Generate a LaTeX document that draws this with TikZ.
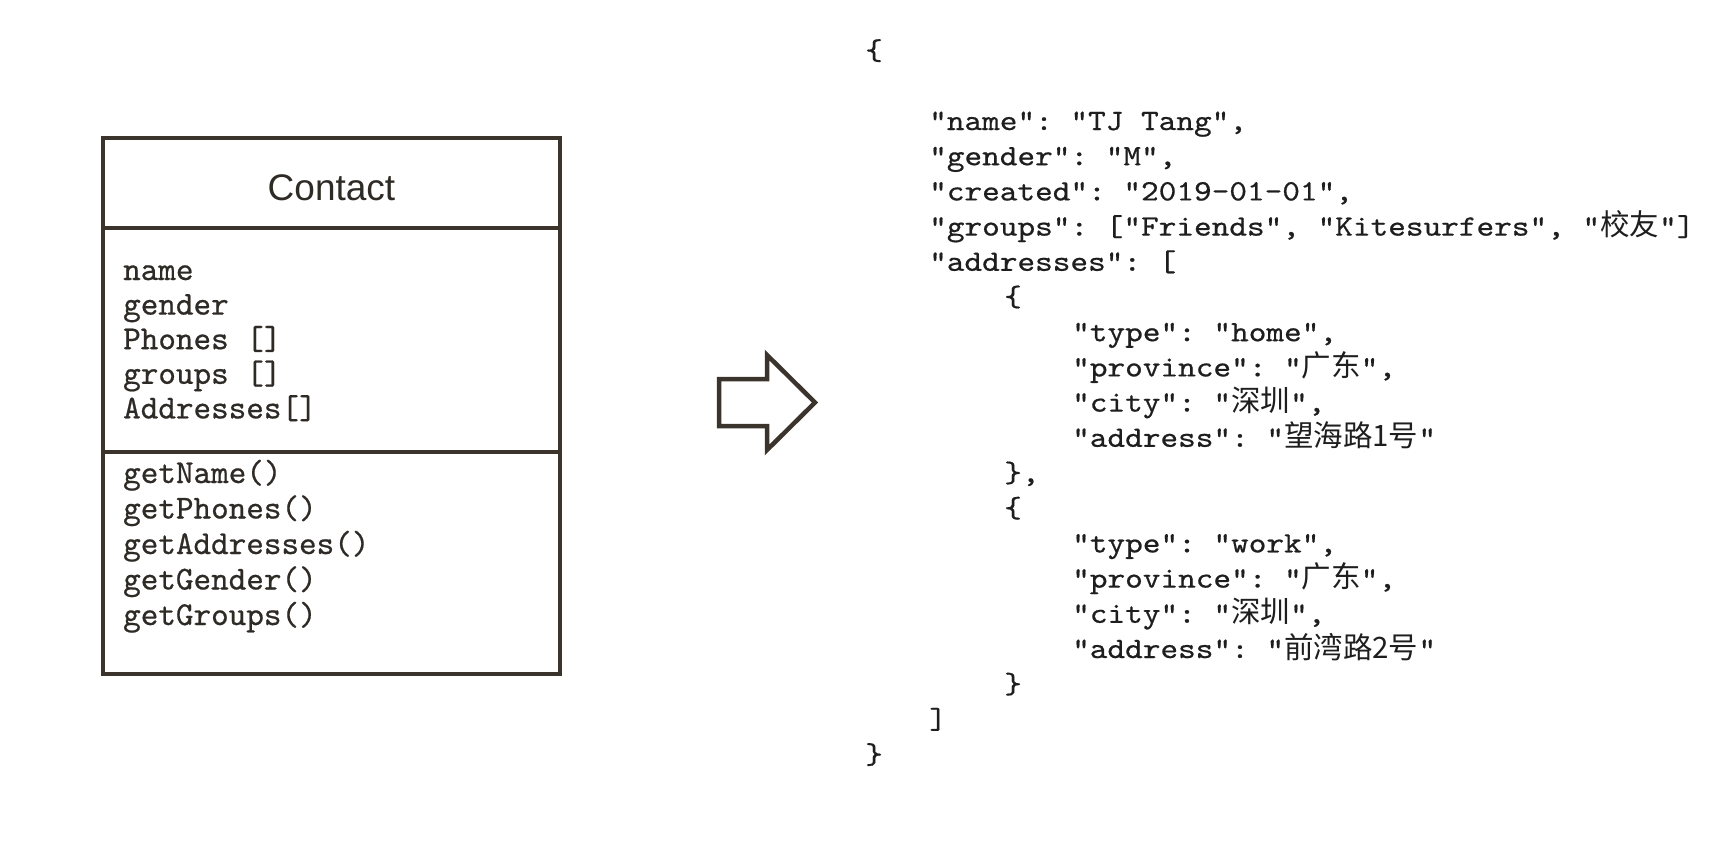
\documentclass[tikz,border=0pt]{standalone}
\usepackage{fontspec}
\newfontfamily\titlefont{Liberation Sans}
\newfontfamily\boxmono{lmmono10-regular.otf}[FakeBold=0.6]
\newfontfamily\jsonmono{lmmono10-regular.otf}[FakeStretch=1.14,FakeBold=0.6]
\newfontfamily\cjk{Noto Sans CJK SC}
\definecolor{strokec}{HTML}{3A342D}
\definecolor{boxtxt}{HTML}{2E2A25}
\definecolor{jsontxt}{HTML}{1E1E1E}
\tikzset{
  classbox/.style={draw=strokec, line width=4pt, rectangle, inner sep=0pt},
  divider/.style={draw=strokec, line width=4pt},
  titletext/.style={inner sep=0pt, anchor=base, text=boxtxt, font=\titlefont\fontsize{37}{44}\selectfont},
  membertext/.style={inner sep=0pt, anchor=base west, text=boxtxt, font=\boxmono\fontsize{33.5}{40}\selectfont\frenchspacing},
  jsontext/.style={inner sep=0pt, anchor=base west, text=jsontxt, font=\jsonmono\fontsize{29.5}{35}\selectfont\frenchspacing},
  bigarrow/.style={draw=strokec, line width=4.5pt, line join=miter}
}
\newcommand\jl[3]{\node[jsontext] (j#1) at (#2,{59.6+35.2*#1}) {#3};}
\begin{document}
\begin{tikzpicture}[x=1pt,y=-1pt]
\useasboundingbox (0,0) rectangle (1736,844);
% class box
\node[classbox, minimum width=457pt, minimum height=536pt] (cls) at (331.5,406) {};
\coordinate (d1) at (103,228);
\coordinate (d2) at (103,452);
\draw[divider] (d1) -- (d1 -| cls.east);
\draw[divider] (d2) -- (d2 -| cls.east);
\node[titletext] (title) at (331.5,200) {Contact};
\node[membertext] (a1) at (123,280) {name};
\node[membertext] (a2) at (123,314.6) {gender};
\node[membertext] (a3) at (123,349.2) {Phones []};
\node[membertext] (a4) at (123,383.8) {groups []};
\node[membertext] (a5) at (123,418.4) {Addresses[]};
\node[membertext] (m1) at (123,483) {getName()};
\node[membertext] (m2) at (123,518.5) {getPhones()};
\node[membertext] (m3) at (123,554) {getAddresses()};
\node[membertext] (m4) at (123,589.5) {getGender()};
\node[membertext] (m5) at (123,625) {getGroups()};
% arrow
\draw[bigarrow] (719,379) -- (767,379) -- (767,355) -- (815,402.5) -- (767,450) -- (767,426) -- (719,426) -- cycle;
% json
\jl{0}{865}{\{}
\jl{2}{929}{"name": "TJ Tang",}
\jl{3}{929}{"gender": "M",}
\jl{4}{929}{"created": "2019-01-01",}
\jl{5}{929}{"groups": ["Friends", "Kitesurfers", "{\cjk 校友}"]}
\jl{6}{929}{"addresses": [}
\jl{7}{1004}{\{}
\jl{8}{1072}{"type": "home",}
\jl{9}{1072}{"province": "{\cjk 广东}",}
\jl{10}{1072}{"city": "{\cjk 深圳}",}
\jl{11}{1072}{"address": "{\cjk 望海路1号}"}
\jl{12}{1004}{\},}
\jl{13}{1004}{\{}
\jl{14}{1072}{"type": "work",}
\jl{15}{1072}{"province": "{\cjk 广东}",}
\jl{16}{1072}{"city": "{\cjk 深圳}",}
\jl{17}{1072}{"address": "{\cjk 前湾路2号}"}
\jl{18}{1004}{\}}
\jl{19}{929}{]}
\jl{20}{865}{\}}
\end{tikzpicture}
\end{document}
